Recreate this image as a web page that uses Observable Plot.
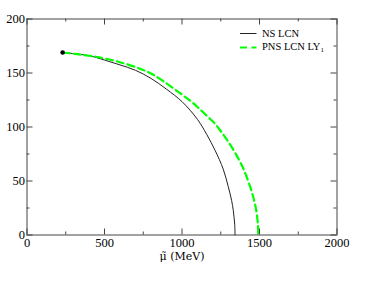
<!DOCTYPE html>
<html><head><meta charset="utf-8">
<script src="https://cdn.jsdelivr.net/npm/d3@7"></script>
<script src="https://cdn.jsdelivr.net/npm/@observablehq/plot@0.6"></script>
<style>
body{margin:0;background:#fff}
#chart svg text, #chart svg tspan { font-family: "Liberation Serif", "DejaVu Serif", serif !important; }
#chart svg text.mu-label { font-family: "DejaVu Serif", serif !important; }
</style>
</head><body><div id="chart"></div>
<script>
const nsMu = [230, 400, 500, 600, 700, 800, 900, 1000, 1100, 1160, 1213, 1266, 1298, 1320, 1331, 1340, 1342];
const nsT  = [169, 166, 162, 157.5, 152.5, 145, 135, 123.5, 107, 93, 78.5, 61, 45, 32, 22.5, 10, 0];
const pnsMu = [230, 400, 500, 600, 729, 800, 879, 1000, 1052, 1100, 1159, 1213, 1256, 1300, 1353, 1400, 1450, 1472, 1482, 1489.5, 1492];
const pnsT  = [169, 166, 163.5, 160, 154, 149.5, 142.5, 130, 124.5, 118.5, 110.5, 103, 95, 86, 73.5, 60, 40, 28, 20, 10, 0];
const xMajor = [0, 500, 1000, 1500, 2000];
const xMinor = [250, 750, 1250, 1750];
const yMajor = [0, 50, 100, 150, 200];
const yMinor = [25, 75, 125, 175];
const xLabel = "μ̃ (MeV)";
const legendNames = ["NS LCN", "PNS LCN LY"];
const legendSub = "1";

const ns = nsMu.map((x, i) => ({x, y: nsT[i]}));
const pns = pnsMu.map((x, i) => ({x, y: pnsT[i]}));

const W = 381, H = 281, mL = 26.5, mR = 44.5, mT = 18.5, mB = 46.5;
const pw = W - mL - mR, ph = H - mT - mB;
const frameColor = "#444";
const green = "#00ff00";
const serif = "'Liberation Serif', 'DejaVu Serif', serif";

const chart = Plot.plot({
  width: W, height: H,
  marginLeft: mL, marginRight: mR, marginTop: mT, marginBottom: mB,
  x: {domain: [0, 2000]},
  y: {domain: [0, 200]},
  style: {fontFamily: serif, fontSize: "12.5px", background: "white", color: "black"},
  marks: [
    Plot.line(ns, {x: "x", y: "y", stroke: "#222", strokeWidth: 1, curve: "catmull-rom"}),
    Plot.line(pns, {x: "x", y: "y", stroke: green, strokeWidth: 2.2, strokeDasharray: "7,4", curve: "catmull-rom"}),
    Plot.dot([ns[0]], {x: "x", y: "y", fill: "black", r: 2.3}),
    Plot.frame({stroke: frameColor, strokeWidth: 1}),
    Plot.tickX(xMajor, {x: d => d, insetTop: ph - 6, stroke: frameColor}),
    Plot.tickX(xMinor, {x: d => d, insetTop: ph - 3, stroke: frameColor}),
    Plot.tickX(xMajor, {x: d => d, insetBottom: ph - 6, stroke: frameColor}),
    Plot.tickX(xMinor, {x: d => d, insetBottom: ph - 3, stroke: frameColor}),
    Plot.tickY(yMajor, {y: d => d, insetRight: pw - 6, stroke: frameColor}),
    Plot.tickY(yMinor, {y: d => d, insetRight: pw - 3, stroke: frameColor}),
    Plot.tickY(yMajor, {y: d => d, insetLeft: pw - 6, stroke: frameColor}),
    Plot.tickY(yMinor, {y: d => d, insetLeft: pw - 3, stroke: frameColor}),
    Plot.axisX({ticks: xMajor, tickSize: 0, tickPadding: 3, label: null, tickFormat: d => String(d)}),
    Plot.axisY({ticks: yMajor, tickSize: 0, tickPadding: 2, label: null, tickFormat: d => String(d)}),
    Plot.text([xLabel], {frameAnchor: "bottom", text: d => d, dy: 21.5, lineAnchor: "middle", fill: "black", fontSize: 11})
  ]
});
document.getElementById("chart").appendChild(chart);
d3.select(chart).selectAll("text").filter(function() { return this.textContent === xLabel; }).classed("mu-label", true);

// legend inside the plot area
const svg = d3.select(chart);
const lg = svg.append("g").attr("font-family", serif).attr("font-size", 10.5)
  .attr("fill", "black").attr("text-anchor", "start");
lg.append("line").attr("x1", 240).attr("x2", 256.5).attr("y1", 33.5).attr("y2", 33.5)
  .attr("stroke", "#222").attr("stroke-width", 1);
lg.append("text").attr("x", 262).attr("y", 37).text(legendNames[0]);
lg.append("line").attr("x1", 240).attr("x2", 256.5).attr("y1", 47.5).attr("y2", 47.5)
  .attr("stroke", green).attr("stroke-width", 2.2).attr("stroke-dasharray", "7,4.5");
const t2 = lg.append("text").attr("x", 262).attr("y", 49.5).text(legendNames[1]);
t2.append("tspan").attr("font-size", 7).attr("dy", 2.5).text(legendSub);
</script>
</body></html>
